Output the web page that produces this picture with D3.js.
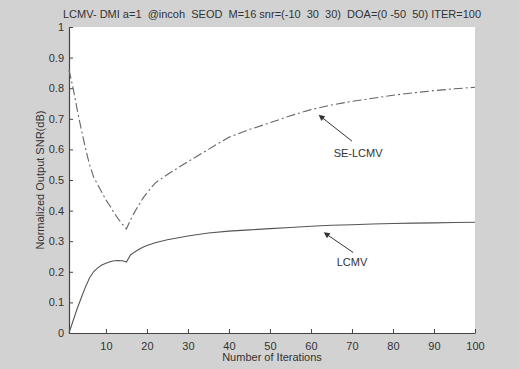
<!DOCTYPE html>
<html>
<head>
<meta charset="utf-8">
<script src="https://cdn.jsdelivr.net/npm/d3@7"></script>
<style>
  body { margin: 0; background: #d2d2d2; }
  svg { display: block; font-family: "Liberation Sans", Arial, sans-serif; }
</style>
</head>
<body>
<div id="plot"></div>
<script>
// iterations sampled along the curves
const iterations = [1,2,3,4,5,6,7,8,9,10,11,12,13,14,15,16,17,18,19,20,22,25,30,35,40,45,50,55,60,65,70,75,80,85,90,95,100];
const lcmv = [0,0.04,0.08,0.115,0.15,0.18,0.20,0.213,0.222,0.228,0.233,0.236,0.237,0.236,0.232,0.255,0.265,0.273,0.28,0.286,0.295,0.305,0.317,0.327,0.333,0.337,0.341,0.345,0.349,0.352,0.354,0.356,0.358,0.359,0.36,0.361,0.362];
const seLcmv = [0.86,0.80,0.73,0.665,0.605,0.55,0.51,0.485,0.46,0.435,0.415,0.393,0.373,0.356,0.34,0.37,0.395,0.418,0.44,0.458,0.49,0.518,0.56,0.60,0.64,0.665,0.687,0.71,0.73,0.745,0.757,0.767,0.777,0.785,0.792,0.798,0.803];
const xTicks = [10,20,30,40,50,60,70,80,90,100];
const yTicks = [0,0.1,0.2,0.3,0.4,0.5,0.6,0.7,0.8,0.9,1];
const title = "LCMV- DMI a=1  @incoh  SEOD  M=16 snr=(-10  30  30)  DOA=(0 -50  50) ITER=100";

const W = 519, H = 369;
const margin = {top: 27, right: 44, bottom: 36, left: 69};
const width = W - margin.left - margin.right;
const height = H - margin.top - margin.bottom;

const svg = d3.select("#plot").append("svg")
    .attr("width", W).attr("height", H);

svg.append("rect").attr("width", W).attr("height", H).attr("fill", "#d2d2d2");

const g = svg.append("g")
    .attr("transform", "translate(" + margin.left + "," + margin.top + ")");

g.append("rect").attr("width", width).attr("height", height).attr("fill", "#fff");

const x = d3.scaleLinear().domain([1, 100]).range([0, width]);
const y = d3.scaleLinear().domain([0, 1]).range([height, 0]);

// axes, ticks pointing inward
const xAxis = g.append("g")
    .attr("transform", "translate(0," + height + ")")
    .call(d3.axisBottom(x).tickValues(xTicks).tickSizeInner(-4).tickSizeOuter(0).tickPadding(9));
const yAxis = g.append("g")
    .call(d3.axisLeft(y).tickValues(yTicks).tickSizeInner(-4).tickSizeOuter(0).tickPadding(5)
      .tickFormat(d => d === 0 || d === 1 ? d3.format("d")(d) : d3.format(".1f")(d)));

[xAxis, yAxis].forEach(a => {
  a.select(".domain").attr("stroke", "#444").attr("stroke-width", 1.2);
  a.selectAll(".tick line").attr("stroke", "#444");
  a.selectAll("text").attr("fill", "#333").style("font-size", "11px");
});

const line = series => d3.line()
    .x((d, i) => x(iterations[i]))
    .y(d => y(d))(series);

g.append("path").attr("d", line(lcmv))
    .attr("fill", "none").attr("stroke", "#555").attr("stroke-width", 1.1);
g.append("path").attr("d", line(seLcmv))
    .attr("fill", "none").attr("stroke", "#666").attr("stroke-width", 1.1)
    .attr("stroke-dasharray", "9,3,2,3");

// annotations
const defs = svg.append("defs");
defs.append("marker").attr("id", "arr")
    .attr("viewBox", "0 0 10 10").attr("refX", 1).attr("refY", 5)
    .attr("markerWidth", 8).attr("markerHeight", 6).attr("orient", "auto-start-reverse")
    .append("path").attr("d", "M0,0L10,5L0,10Z").attr("fill", "#333");

const notes = [
  {label: "SE-LCMV", head: [62.9, 0.702], tail: [70, 0.627], text: [71.5, 0.585]},
  {label: "LCMV", head: [64.2, 0.319], tail: [70.3, 0.263], text: [70, 0.23]}
];
notes.forEach(n => {
  g.append("line")
      .attr("x1", x(n.tail[0])).attr("y1", y(n.tail[1]))
      .attr("x2", x(n.head[0])).attr("y2", y(n.head[1]))
      .attr("stroke", "#333").attr("stroke-width", 1)
      .attr("marker-end", "url(#arr)");
  g.append("text").attr("x", x(n.text[0])).attr("y", y(n.text[1]))
      .attr("text-anchor", "middle").attr("dominant-baseline", "middle")
      .attr("fill", "#333").style("font-size", "11px").text(n.label);
});

svg.append("text").attr("x", margin.left + width / 2).attr("y", 18)
    .attr("text-anchor", "middle").attr("fill", "#333").style("font-size", "11px")
    .attr("xml:space", "preserve").style("white-space", "pre").text(title);

svg.append("text").attr("x", margin.left + width / 2).attr("y", 361)
    .attr("text-anchor", "middle").attr("fill", "#333").style("font-size", "11px")
    .text("Number of Iterations");

svg.append("text")
    .attr("transform", "translate(44," + (margin.top + height / 2) + ") rotate(-90)")
    .attr("text-anchor", "middle").attr("fill", "#333").style("font-size", "11px")
    .text("Normalized Output SNR(dB)");
</script>
</body>
</html>
